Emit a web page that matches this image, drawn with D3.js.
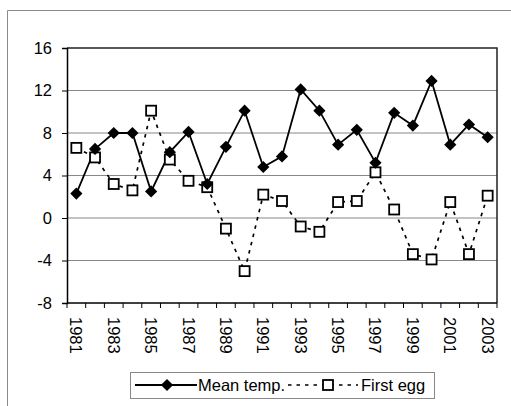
<!DOCTYPE html>
<html><head><meta charset="utf-8">
<script src="https://cdn.jsdelivr.net/npm/d3@7"></script>
<style>body{margin:0;background:#fff}svg{display:block;font-family:"Liberation Sans",Arial,sans-serif}</style>
</head><body><svg id="c" width="511" height="406"></svg>
<script>
const years = ["1981","1982","1983","1984","1985","1986","1987","1988","1989","1990","1991","1992","1993","1994","1995","1996","1997","1998","1999","2000","2001","2002","2003"];
const meanTemp = [2.3,6.5,8.0,8.0,2.5,6.2,8.1,3.2,6.7,10.1,4.8,5.8,12.1,10.1,6.9,8.3,5.2,9.9,8.7,12.9,6.9,8.8,7.6];
const firstEgg = [6.6,5.7,3.2,2.6,10.1,5.5,3.5,2.9,-1.0,-5.0,2.2,1.6,-0.8,-1.3,1.5,1.6,4.3,0.8,-3.4,-3.9,1.5,-3.4,2.1];
const yTicks = [-8,-4,0,4,8,12,16];
const seriesNames = ["Mean temp.","First egg"];

const svg = d3.select("#c");
const L=67,R=497,T=48,B=303;
const x = d3.scaleBand().domain(years).range([L,R]);
const y = d3.scaleLinear().domain([-8,16]).range([B,T]);

// outer frame
svg.append("path").attr("d","M7.5,406 V10.5 H511").attr("fill","none").attr("stroke","#8a8a8a").attr("stroke-width",1);

// gridlines
svg.append("g").selectAll("line").data(yTicks.filter(d=>d>-8&&d<16)).join("line")
  .attr("x1",L).attr("x2",R).attr("y1",d=>y(d)).attr("y2",d=>y(d))
  .attr("stroke","#888").attr("stroke-width",1);

// plot border top/right
svg.append("path").attr("d",`M${L},${T} H${R} V${B}`).attr("fill","none").attr("stroke","#222").attr("stroke-width",1.5);

// y axis
const ya = svg.append("g").attr("transform",`translate(${L},0)`)
  .call(d3.axisLeft(y).tickValues(yTicks).tickSize(5).tickPadding(10).tickFormat(d=>String(d)));
ya.select(".domain").attr("stroke","#000").attr("stroke-width",1.5);
ya.selectAll(".tick line").attr("stroke","#000");
ya.selectAll("text").attr("font-size",16.5).attr("font-family","Liberation Sans, Arial, sans-serif").attr("fill","#000");

// x axis: ticks at category boundaries
const xg = svg.append("g");
xg.append("line").attr("x1",L).attr("x2",R).attr("y1",B).attr("y2",B).attr("stroke","#000").attr("stroke-width",1.5);
const bounds = years.map(d=>x(d)).concat([R]);
xg.selectAll("line.t").data(bounds).join("line").attr("class","t")
  .attr("x1",d=>d).attr("x2",d=>d).attr("y1",B).attr("y2",B+5).attr("stroke","#000");
xg.selectAll("text").data(years.filter((d,i)=>i%2===0)).join("text")
  .attr("transform",d=>`translate(${x(d)+x.bandwidth()/2-6},${B+14}) rotate(90)`)
  .attr("font-size",16.5).attr("fill","#000").text(d=>d);

const cx = d=>x(d)+x.bandwidth()/2;

// first egg dashed line
svg.append("path").datum(firstEgg)
  .attr("d",d3.line().x((d,i)=>cx(years[i])).y(d=>y(d)))
  .attr("fill","none").attr("stroke","#000").attr("stroke-width",1.7).attr("stroke-dasharray","3.5,5");

// mean temp line
svg.append("path").datum(meanTemp)
  .attr("d",d3.line().x((d,i)=>cx(years[i])).y(d=>y(d)))
  .attr("fill","none").attr("stroke","#000").attr("stroke-width",1.8);

// squares
svg.append("g").selectAll("rect").data(firstEgg).join("rect")
  .attr("x",(d,i)=>cx(years[i])-5).attr("y",d=>y(d)-5).attr("width",10).attr("height",10)
  .attr("fill","#fff").attr("stroke","#000").attr("stroke-width",1.8);

// diamonds
const dia = d3.symbol().type(d3.symbolDiamond2).size(95);
svg.append("g").selectAll("path").data(meanTemp).join("path")
  .attr("transform",(d,i)=>`translate(${cx(years[i])},${y(d)})`)
  .attr("d",dia).attr("fill","#000");

// legend
const lg = svg.append("g");
lg.append("rect").attr("x",130.5).attr("y",372.5).attr("width",304).attr("height",26)
  .attr("fill","#fff").attr("stroke","#888");
lg.append("line").attr("x1",135).attr("x2",197).attr("y1",385).attr("y2",385).attr("stroke","#000").attr("stroke-width",1.8);
lg.append("path").attr("transform","translate(167,385)").attr("d",dia).attr("fill","#000");
lg.append("text").attr("x",198).attr("y",391).attr("font-size",16.5).text(seriesNames[0]);
lg.append("line").attr("x1",288).attr("x2",358).attr("y1",385).attr("y2",385).attr("stroke","#000").attr("stroke-width",1.7).attr("stroke-dasharray","3.5,5");
lg.append("rect").attr("x",323).attr("y",380).attr("width",10).attr("height",10).attr("fill","#fff").attr("stroke","#000").attr("stroke-width",1.8);
lg.append("text").attr("x",361).attr("y",391).attr("font-size",16.5).text(seriesNames[1]);
</script></body></html>
